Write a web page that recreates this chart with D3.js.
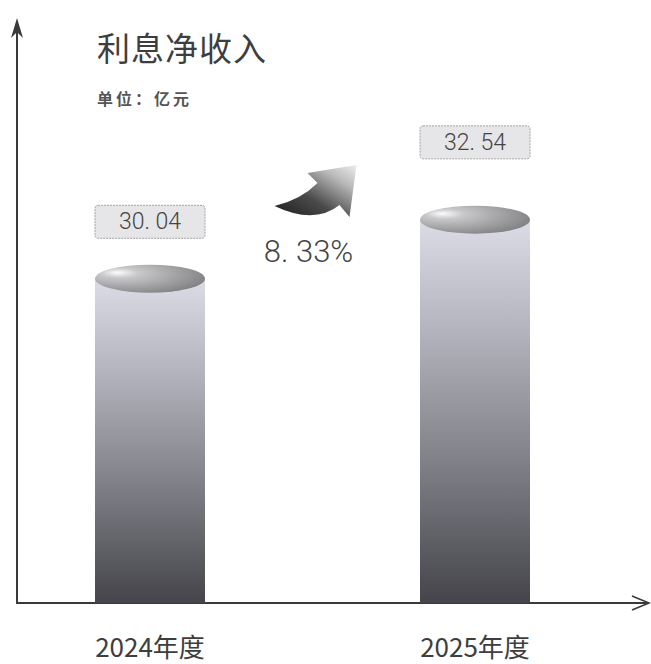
<!DOCTYPE html>
<html>
<head>
<meta charset="utf-8">
<title>利息净收入</title>
<script src="https://d3js.org/d3.v7.min.js"></script>
<style>
  body { margin: 0; background: #fff; }
  svg { display: block; }
  .cjk { font-family: "Noto Sans CJK SC", sans-serif; fill: #3e3e3e; }
  .num { font-family: "Liberation Sans Narrow", "Roboto", "Noto Sans CJK SC", sans-serif; font-weight: 300; fill: #444; }
</style>
</head>
<body>
<div id="chart"></div>
<script>
// data
var categories = ["2024年度", "2025年度"];
var values = [30.04, 32.54];
var growth = [8.33];
var title = "利息净收入";
var unit = "单位：亿元";

var width = 651, height = 664;
var baseY = 603, axisX = 17;

var svg = d3.select("#chart").append("svg")
    .attr("width", width)
    .attr("height", height);

var defs = svg.append("defs");

// cylinder body gradient
var bodyGrad = defs.append("linearGradient").attr("id", "bodyGrad")
    .attr("x1", 0).attr("y1", 0).attr("x2", 0).attr("y2", 1);
bodyGrad.append("stop").attr("offset", "0%").attr("stop-color", "#dcdce6");
bodyGrad.append("stop").attr("offset", "30%").attr("stop-color", "#b2b2bc");
bodyGrad.append("stop").attr("offset", "62%").attr("stop-color", "#82828a");
bodyGrad.append("stop").attr("offset", "100%").attr("stop-color", "#44444a");

// cylinder top
var topGrad = defs.append("radialGradient").attr("id", "topGrad")
    .attr("cx", "30%").attr("cy", "35%").attr("r", "80%")
    .attr("fx", "20%").attr("fy", "28%");
topGrad.append("stop").attr("offset", "0%").attr("stop-color", "#fcfcfc");
topGrad.append("stop").attr("offset", "22%").attr("stop-color", "#c8c8ca");
topGrad.append("stop").attr("offset", "100%").attr("stop-color", "#7c7c7e");

// curved arrow
var arrowGrad = defs.append("linearGradient").attr("id", "arrowGrad")
    .attr("x1", 0).attr("y1", 1).attr("x2", 1).attr("y2", 0);
arrowGrad.append("stop").attr("offset", "0%").attr("stop-color", "#1c1c1c");
arrowGrad.append("stop").attr("offset", "40%").attr("stop-color", "#4a4a4a");
arrowGrad.append("stop").attr("offset", "75%").attr("stop-color", "#b8b8b8");
arrowGrad.append("stop").attr("offset", "100%").attr("stop-color", "#eeeeee");

var x = d3.scalePoint().domain(categories).range([150, 475]);
var y = d3.scaleLinear().domain([16.3, 41]).range([baseY, 20]);
// value boxes are not placed on the bar scale in the picture
var labelY = d3.scaleLinear().domain([16.3, 41]).range([658, -127]);

var barW = 110, ry = 14;
var fmt = function (v) { return d3.format(".2f")(v).replace(".", ". "); };

var data = categories.map(function (c, i) { return { cat: c, value: values[i] }; });

// axes
svg.append("line")
    .attr("x1", axisX).attr("y1", baseY).attr("x2", width - 2).attr("y2", baseY)
    .attr("stroke", "#3a3a3a").attr("stroke-width", 2);
svg.append("path")
    .attr("d", "M" + (width - 19) + "," + (baseY - 7) + "L" + (width - 2) + "," + baseY + "L" + (width - 19) + "," + (baseY + 7))
    .attr("fill", "none").attr("stroke", "#3a3a3a").attr("stroke-width", 1.6);

svg.append("line")
    .attr("x1", axisX).attr("y1", baseY + 1).attr("x2", axisX).attr("y2", 22)
    .attr("stroke", "#3a3a3a").attr("stroke-width", 2);
svg.append("path")
    .attr("d", "M" + axisX + ",18L" + (axisX + 6) + ",38L" + axisX + ",32L" + (axisX - 6) + ",38Z")
    .attr("fill", "#3a3a3a");

// cylinders
var bars = svg.selectAll(".bar").data(data).enter().append("g").attr("class", "bar");

bars.append("rect")
    .attr("x", function (d) { return x(d.cat) - barW / 2; })
    .attr("y", function (d) { return y(d.value); })
    .attr("width", barW)
    .attr("height", function (d) { return baseY - y(d.value); })
    .attr("fill", "url(#bodyGrad)");

bars.append("ellipse")
    .attr("cx", function (d) { return x(d.cat); })
    .attr("cy", function (d) { return y(d.value); })
    .attr("rx", barW / 2)
    .attr("ry", ry)
    .attr("fill", "url(#topGrad)");

// value boxes
bars.append("rect")
    .attr("x", function (d) { return x(d.cat) - barW / 2; })
    .attr("y", function (d) { return labelY(d.value) - 16; })
    .attr("width", barW)
    .attr("height", 33)
    .attr("rx", 3)
    .attr("fill", "#e6e6e8")
    .attr("stroke", "#a4a4a4")
    .attr("stroke-width", 1)
    .attr("stroke-dasharray", "2,1");

bars.append("text")
    .attr("class", "num")
    .attr("x", function (d) { return x(d.cat); })
    .attr("y", function (d) { return labelY(d.value) + 8; })
    .attr("text-anchor", "middle")
    .style("font-size", "23px")
    .text(function (d) { return fmt(d.value); });

// category labels
svg.selectAll(".cat").data(categories).enter().append("text")
    .attr("class", "cjk cat")
    .attr("x", function (d) { return x(d); })
    .attr("y", 657)
    .attr("text-anchor", "middle")
    .style("font-size", "26px")
    .text(function (d) { return d; });

// title
svg.append("text").attr("class", "cjk")
    .attr("x", 97).attr("y", 61)
    .style("font-size", "33px")
    .style("letter-spacing", "1px")
    .text(title);
svg.append("text").attr("class", "cjk")
    .attr("x", 97).attr("y", 105)
    .style("font-size", "16px")
    .style("font-weight", "bold")
    .style("fill", "#555")
    .style("letter-spacing", "3px")
    .text(unit);

// growth arrow and text
var midX = (x(categories[0]) + x(categories[1])) / 2;
var g = svg.append("g").attr("transform", "translate(" + midX + ",190)");
g.append("path")
    .attr("d", "M-38,16 Q-12,10 5,-7 L-5,-17 L44,-25 L37,27 L27,15 Q2,35 -38,16 Z")
    .attr("fill", "url(#arrowGrad)");
g.append("text").attr("class", "num")
    .attr("x", -4).attr("y", 72)
    .attr("text-anchor", "middle")
    .style("font-size", "31px")
    .text(fmt(growth[0]) + "%");
</script>
</body>
</html>
